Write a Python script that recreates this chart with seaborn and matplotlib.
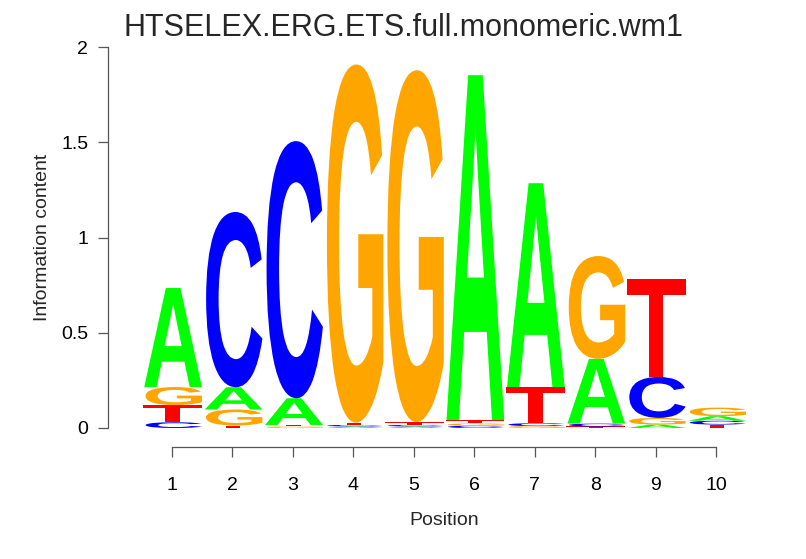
import numpy as np
import matplotlib
matplotlib.use("Agg")
import matplotlib.pyplot as plt
import seaborn as sns
from matplotlib.textpath import TextPath
from matplotlib.patches import PathPatch
from matplotlib.font_manager import FontProperties
from matplotlib.transforms import Affine2D

# information content (bits) of each base at each position
positions = [1, 2, 3, 4, 5, 6, 7, 8, 9, 10]
bits_A = [0.52, 0.117, 0.14, 0.008, 0.008, 1.81, 1.07, 0.34, 0.018, 0.024]
bits_C = [0.03, 0.92, 1.35, 0.008, 0.008, 0.012, 0.015, 0.015, 0.215, 0.020]
bits_G = [0.095, 0.084, 0.008, 1.88, 1.847, 0.012, 0.010, 0.54, 0.035, 0.045]
bits_T = [0.09, 0.013, 0.008, 0.012, 0.015, 0.018, 0.19, 0.008, 0.514, 0.018]
yticks = [0, 0.5, 1, 1.5, 2]
ytick_labels = ["0", "0.5", "1", "1.5", "2"]

colors = {"A": "#00FF00", "C": "#0000FF", "G": "#FFA500", "T": "#FF0000"}

sns.set_theme(style="ticks")
plt.rcParams["font.family"] = ["Liberation Sans", "DejaVu Sans"]

fig = plt.figure(figsize=(8.06, 5.59), dpi=100)
ax = fig.add_axes([141.8 / 806, 1 - 428 / 559, 604.6 / 806, 381 / 559])

fp = FontProperties(family="Liberation Sans", weight="bold")
glyphs = {}
for b in "ACGT":
    p = TextPath((0, 0), b, size=1, prop=fp)
    v = p.vertices
    glyphs[b] = (p, v[:, 0].min(), v[:, 1].min(), v[:, 0].max(), v[:, 1].max())


def draw_letter(b, x, y0, h, w=0.99):
    p, x0, ymin, x1, ymax = glyphs[b]
    tr = (Affine2D().translate(-x0, -ymin)
          .scale(w / (x1 - x0), h / (ymax - ymin))
          .translate(x - w / 2, y0))
    ax.add_patch(PathPatch(tr.transform_path(p), facecolor=colors[b],
                           edgecolor="none", lw=0))


for i, pos in enumerate(positions):
    stack = sorted([("A", bits_A[i]), ("C", bits_C[i]),
                    ("G", bits_G[i]), ("T", bits_T[i])], key=lambda t: t[1])
    y = 0
    for b, h in stack:
        draw_letter(b, pos, y, h)
        y += h

ax.set_xlim(0.5, 10.5)
ax.set_ylim(0, 2)
ax.set_xticks(positions)
ax.set_xticklabels([str(p) for p in positions])
ax.set_yticks(yticks)
ax.set_yticklabels(ytick_labels)
sns.despine(ax=ax, offset={"left": 24, "bottom": 14})
ax.spines["left"].set_bounds(0, 2)
ax.spines["bottom"].set_bounds(1, 10)
for s in ["left", "bottom"]:
    ax.spines[s].set_color("#555555")
    ax.spines[s].set_linewidth(0.9)
ax.tick_params(axis="both", length=7.5, width=0.9, color="#555555",
               labelsize=14, labelcolor="black")
ax.tick_params(axis="x", pad=14)
ax.tick_params(axis="y", pad=7)
ax.set_xlabel("Position", fontsize=14, labelpad=13)
ax.set_ylabel("Information content", fontsize=14, labelpad=7)
ax.grid(False)

fig.text(0.5, 1 - 36 / 559, "HTSELEX.ERG.ETS.full.monomeric.wm1",
         ha="center", va="baseline", fontsize=22)

fig.savefig("out.png", dpi=100)
